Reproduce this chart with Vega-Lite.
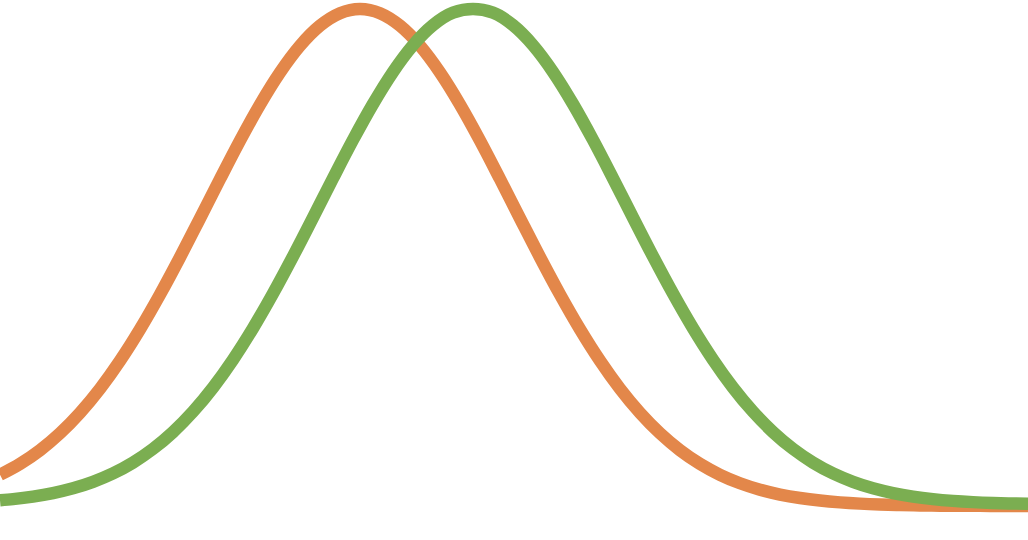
{
  "$schema": "https://vega.github.io/schema/vega-lite/v6.json",
  "description": "Two shifted bell curves, orange and green, no axes.",
  "autosize": {"type": "fit", "contains": "padding"},
  "width": 1028,
  "height": 540,
  "padding": 0,
  "background": "white",
  "config": {"view": {"stroke": null}},
  "data": {
    "values": [
      {"series": "A", "x": 0, "y": 0.06278},
      {"series": "A", "x": 20, "y": 0.08467},
      {"series": "A", "x": 40, "y": 0.11224},
      {"series": "A", "x": 60, "y": 0.14627},
      {"series": "A", "x": 80, "y": 0.1874},
      {"series": "A", "x": 100, "y": 0.23601},
      {"series": "A", "x": 120, "y": 0.29221},
      {"series": "A", "x": 140, "y": 0.35566},
      {"series": "A", "x": 160, "y": 0.42557},
      {"series": "A", "x": 180, "y": 0.50055},
      {"series": "A", "x": 200, "y": 0.5788},
      {"series": "A", "x": 220, "y": 0.65792},
      {"series": "A", "x": 240, "y": 0.73524},
      {"series": "A", "x": 260, "y": 0.80768},
      {"series": "A", "x": 280, "y": 0.87223},
      {"series": "A", "x": 300, "y": 0.92599},
      {"series": "A", "x": 320, "y": 0.9664},
      {"series": "A", "x": 340, "y": 0.99149},
      {"series": "A", "x": 360, "y": 1},
      {"series": "A", "x": 380, "y": 0.99149},
      {"series": "A", "x": 400, "y": 0.9664},
      {"series": "A", "x": 420, "y": 0.92599},
      {"series": "A", "x": 440, "y": 0.87223},
      {"series": "A", "x": 460, "y": 0.80768},
      {"series": "A", "x": 480, "y": 0.73524},
      {"series": "A", "x": 500, "y": 0.65792},
      {"series": "A", "x": 520, "y": 0.5788},
      {"series": "A", "x": 540, "y": 0.50055},
      {"series": "A", "x": 560, "y": 0.42557},
      {"series": "A", "x": 580, "y": 0.35566},
      {"series": "A", "x": 600, "y": 0.29221},
      {"series": "A", "x": 620, "y": 0.23601},
      {"series": "A", "x": 640, "y": 0.1874},
      {"series": "A", "x": 660, "y": 0.14627},
      {"series": "A", "x": 680, "y": 0.11224},
      {"series": "A", "x": 700, "y": 0.08467},
      {"series": "A", "x": 720, "y": 0.06278},
      {"series": "A", "x": 740, "y": 0.04576},
      {"series": "A", "x": 760, "y": 0.03279},
      {"series": "A", "x": 780, "y": 0.0231},
      {"series": "A", "x": 800, "y": 0.016},
      {"series": "A", "x": 820, "y": 0.0109},
      {"series": "A", "x": 840, "y": 0.00729},
      {"series": "A", "x": 860, "y": 0.0048},
      {"series": "A", "x": 880, "y": 0.0031},
      {"series": "A", "x": 900, "y": 0.00197},
      {"series": "A", "x": 920, "y": 0.00123},
      {"series": "A", "x": 940, "y": 0.00076},
      {"series": "A", "x": 960, "y": 0.00046},
      {"series": "A", "x": 980, "y": 0.00027},
      {"series": "A", "x": 1000, "y": 0.00016},
      {"series": "A", "x": 1020, "y": 0.00009},
      {"series": "A", "x": 1028, "y": 0.00007},
      {"series": "B", "x": 0, "y": 0.0115},
      {"series": "B", "x": 13, "y": 0.0139},
      {"series": "B", "x": 33, "y": 0.019},
      {"series": "B", "x": 53, "y": 0.0261},
      {"series": "B", "x": 73, "y": 0.0357},
      {"series": "B", "x": 93, "y": 0.0487},
      {"series": "B", "x": 113, "y": 0.0656},
      {"series": "B", "x": 133, "y": 0.0874},
      {"series": "B", "x": 153, "y": 0.1149},
      {"series": "B", "x": 173, "y": 0.1488},
      {"series": "B", "x": 193, "y": 0.1898},
      {"series": "B", "x": 213, "y": 0.2383},
      {"series": "B", "x": 233, "y": 0.2944},
      {"series": "B", "x": 253, "y": 0.3577},
      {"series": "B", "x": 273, "y": 0.4275},
      {"series": "B", "x": 293, "y": 0.5023},
      {"series": "B", "x": 313, "y": 0.5804},
      {"series": "B", "x": 333, "y": 0.6594},
      {"series": "B", "x": 353, "y": 0.7366},
      {"series": "B", "x": 373, "y": 0.8089},
      {"series": "B", "x": 393, "y": 0.8734},
      {"series": "B", "x": 413, "y": 0.9271},
      {"series": "B", "x": 433, "y": 0.9674},
      {"series": "B", "x": 453, "y": 0.9925},
      {"series": "B", "x": 473, "y": 1},
      {"series": "B", "x": 493, "y": 0.9925},
      {"series": "B", "x": 513, "y": 0.9674},
      {"series": "B", "x": 533, "y": 0.9271},
      {"series": "B", "x": 553, "y": 0.8734},
      {"series": "B", "x": 573, "y": 0.8089},
      {"series": "B", "x": 593, "y": 0.7366},
      {"series": "B", "x": 613, "y": 0.6594},
      {"series": "B", "x": 633, "y": 0.5804},
      {"series": "B", "x": 653, "y": 0.5023},
      {"series": "B", "x": 673, "y": 0.4275},
      {"series": "B", "x": 693, "y": 0.3577},
      {"series": "B", "x": 713, "y": 0.2944},
      {"series": "B", "x": 733, "y": 0.2383},
      {"series": "B", "x": 753, "y": 0.1898},
      {"series": "B", "x": 773, "y": 0.1488},
      {"series": "B", "x": 793, "y": 0.1149},
      {"series": "B", "x": 813, "y": 0.0874},
      {"series": "B", "x": 833, "y": 0.0656},
      {"series": "B", "x": 853, "y": 0.0487},
      {"series": "B", "x": 873, "y": 0.0357},
      {"series": "B", "x": 893, "y": 0.0261},
      {"series": "B", "x": 913, "y": 0.019},
      {"series": "B", "x": 933, "y": 0.0139},
      {"series": "B", "x": 953, "y": 0.0103},
      {"series": "B", "x": 973, "y": 0.0078},
      {"series": "B", "x": 993, "y": 0.0061},
      {"series": "B", "x": 1013, "y": 0.005},
      {"series": "B", "x": 1028, "y": 0.0044}
    ]
  },
  "mark": {"type": "line", "strokeWidth": 12.5, "interpolate": "monotone", "clip": true},
  "encoding": {
    "x": {"field": "x", "type": "quantitative", "axis": null,
          "scale": {"domain": [0, 1028], "nice": false, "zero": false}},
    "y": {"field": "y", "type": "quantitative", "axis": null,
          "scale": {"domain": [-0.0684, 1.0181], "nice": false, "zero": false}},
    "color": {"field": "series", "type": "nominal", "legend": null,
              "scale": {"domain": ["A", "B"], "range": ["#E3874A", "#7BAE51"]}},
    "order": {"field": "x", "type": "quantitative"}
  }
}
